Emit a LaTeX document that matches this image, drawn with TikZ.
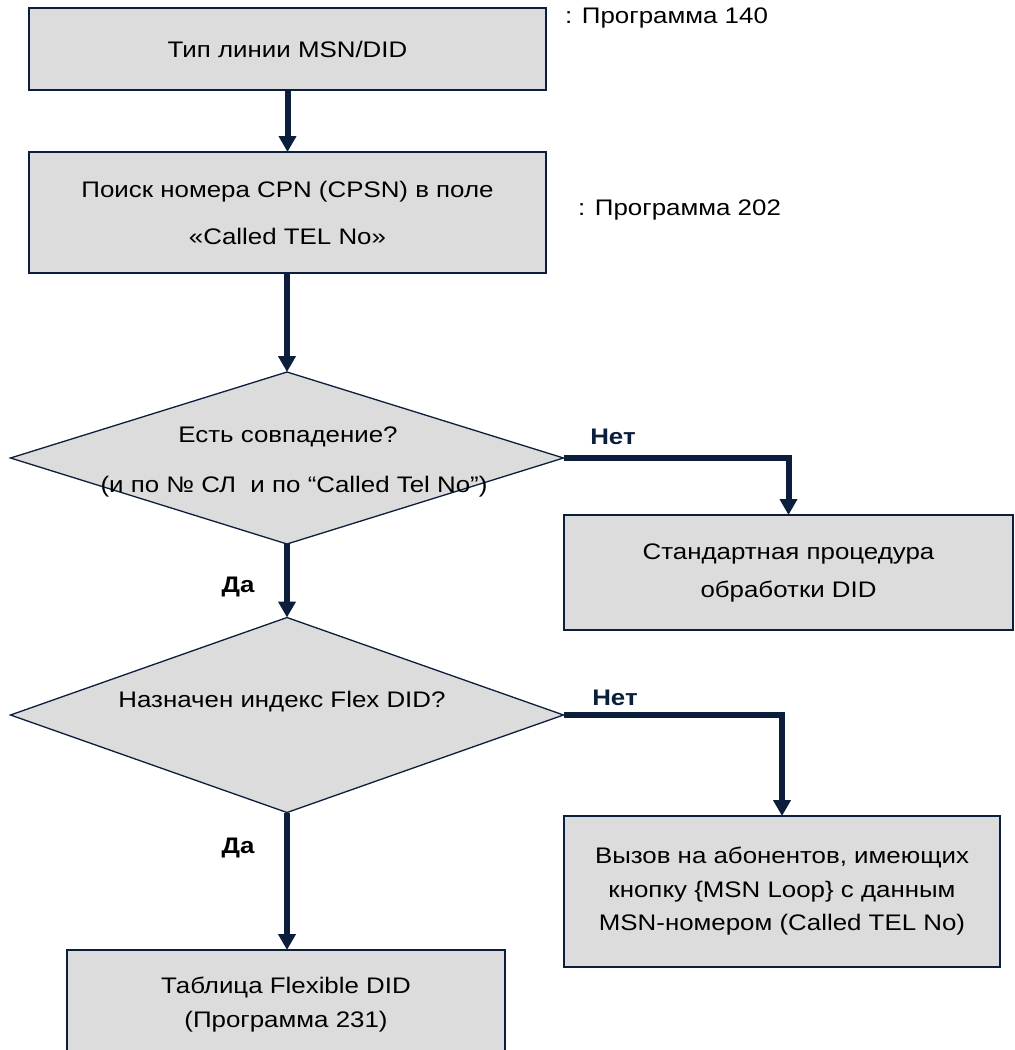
\documentclass[tikz,border=0pt]{standalone}
\usepackage{fontspec}
\setmainfont{Liberation Sans}[FakeStretch=1.15]
\usetikzlibrary{arrows.meta,shapes.geometric}
\definecolor{navy}{HTML}{0B1E3B}
\definecolor{boxgray}{HTML}{DCDCDC}
\begin{document}
\begin{tikzpicture}[x=1pt,y=-1pt,
  box/.style={draw=navy, line width=1.8pt, fill=boxgray, align=center, inner sep=0pt, outer sep=0pt},
  dia/.style={diamond, draw=navy, line width=1.3pt, fill=boxgray, inner sep=0pt, outer sep=0pt},
  txt/.style={font=\fontsize{22.5}{27}\selectfont, inner sep=0pt},
  conn/.style={draw=navy, line width=6pt, -{Triangle[width=17pt,length=16pt]}},
  nolbl/.style={font=\bfseries\fontsize{22.5}{27}\selectfont, text=navy, inner sep=0pt},
  yeslbl/.style={font=\bfseries\fontsize{22.5}{27}\selectfont, inner sep=0pt}]
\useasboundingbox (0,0) rectangle (1015,1050);
\clip (0,0) rectangle (1015,1050);

\node[box, minimum width=517pt, minimum height=82pt, font=\fontsize{22.5}{34}\selectfont] (b1) at (287.5,49) {Тип линии MSN/DID};
\node[box, minimum width=517pt, minimum height=121pt, font=\fontsize{22.5}{47}\selectfont] (b2) at (287.5,212.5) {Поиск номера CPN (CPSN) в поле\\«Called TEL No»};
\node[dia, minimum width=553pt, minimum height=172pt] (d1) at (287,458) {};
\node[box, minimum width=449pt, minimum height=115pt, font=\fontsize{22.5}{38}\selectfont] (b3) at (788.5,572.5) {Стандартная процедура\\обработки DID};
\node[dia, minimum width=553pt, minimum height=195pt] (d2) at (287,715) {};
\node[box, minimum width=436pt, minimum height=151pt, font=\fontsize{22.5}{33.5}\selectfont] (b4) at (782,891.5) {Вызов на абонентов, имеющих\\кнопку \{MSN Loop\} с данным\\MSN-номером (Called TEL No)};
\node[box, minimum width=438pt, minimum height=110pt, font=\fontsize{22.5}{34}\selectfont] (b5) at (286,1005) {Таблица Flexible DID\\(Программа 231)};

\node[txt] (d1t1) at (288,437) {Есть совпадение?};
\node[txt] (d1t2) at (294,487) {(и по № СЛ\ \ и по “Called Tel No”)};
\node[txt] (d2t) at (282,702) {Назначен индекс Flex DID?};

\node[txt, anchor=west] (p140) at (565,18) {: Программа 140};
\node[txt, anchor=west] (p202) at (578,210) {: Программа 202};

\node[nolbl] (no1) at (613,437) {Нет};
\node[nolbl] (no2) at (615,698) {Нет};
\node[yeslbl] (yes1) at (238,587) {Да};
\node[yeslbl] (yes2) at (238,848) {Да};

\draw[conn] (b1.south) -- (b2.north);
\draw[conn] (b2.south -| d1.north) -- (d1.north);
\draw[conn] (d1.south) -- (d2.north);
\draw[conn] (d1.east) -| (b3.north);
\draw[conn] (d2.east) -| (b4.north);
\draw[conn] (d2.south) -- (d2.south |- b5.north);
\end{tikzpicture}
\end{document}
